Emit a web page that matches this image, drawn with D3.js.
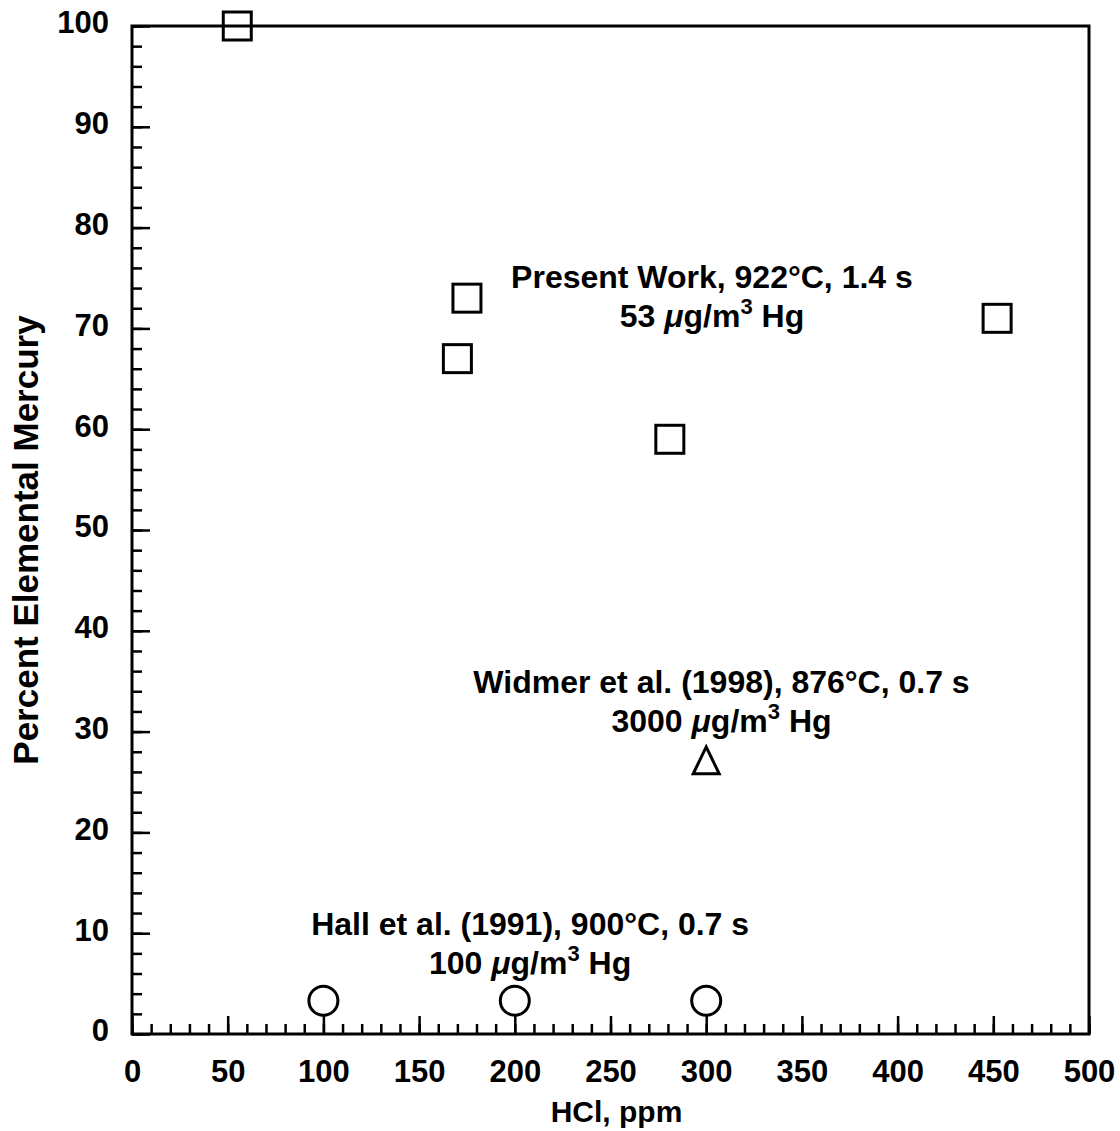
<!DOCTYPE html>
<html>
<head>
<meta charset="utf-8">
<script src="https://cdn.jsdelivr.net/npm/d3@7"></script>
<style>
  body { margin: 0; background: #fff; }
  text { font-family: "Liberation Sans", Arial, Helvetica, sans-serif; font-weight: bold; }
</style>
</head>
<body>
<div id="chart"></div>
<script>
// data
const presentX = [55, 170, 175, 281, 452]
const presentY = [100, 67, 73, 59, 71]
const widmerX = [300]
const widmerY = [27]
const hallX = [100, 200, 300]
const hallY = [3.3, 3.3, 3.3]

const xMajor = [0, 50, 100, 150, 200, 250, 300, 350, 400, 450, 500]
const yMajor = [0, 10, 20, 30, 40, 50, 60, 70, 80, 90, 100]

// annotation labels: [x, y, line1, value]
const notes = [
  [303, 74.0, "Present Work, 922°C, 1.4 s", "53"],
  [308, 33.8, "Widmer et al. (1998), 876°C, 0.7 s", "3000"],
  [208, 9.8, "Hall et al. (1991), 900°C, 0.7 s", "100"]
]

let margin = {top: 26, right: 31, bottom: 97, left: 132},
    width = 1120 - margin.left - margin.right,
    height = 1131 - margin.top - margin.bottom;

const svg = d3.select("#chart")
    .append("svg")
    .attr("width", width + margin.left + margin.right)
    .attr("height", height + margin.top + margin.bottom)
    .append("g")
    .attr("transform", "translate(" + margin.left + "," + margin.top + ")");

const x = d3.scaleLinear().domain([0, 500]).range([0, width])
const y = d3.scaleLinear().domain([0, 100]).range([height, 0])

// minor ticks
svg.append("g")
    .attr("transform", "translate(0," + height + ")")
    .call(d3.axisBottom(x).tickValues(d3.range(0, 501, 10)).tickSize(-10).tickFormat(""))
    .call(g => g.select(".domain").remove())
    .selectAll("line").attr("stroke-width", 2.5)
svg.append("g")
    .call(d3.axisLeft(y).tickValues(d3.range(0, 101, 2)).tickSize(-10).tickFormat(""))
    .call(g => g.select(".domain").remove())
    .selectAll("line").attr("stroke-width", 2.5)

// major ticks + labels
const xAxis = svg.append("g")
    .attr("transform", "translate(0," + height + ")")
    .call(d3.axisBottom(x).tickValues(xMajor).tickSize(-18).tickPadding(26))
xAxis.select(".domain").remove()
xAxis.selectAll("line").attr("stroke-width", 2.5)
xAxis.selectAll("text").style("font-size", "31px").attr("fill", "#000")

const yAxis = svg.append("g")
    .call(d3.axisLeft(y).tickValues(yMajor).tickSize(-18).tickPadding(23))
yAxis.select(".domain").remove()
yAxis.selectAll("line").attr("stroke-width", 2.5)
yAxis.selectAll("text").style("font-size", "31px").attr("fill", "#000").attr("dy", "0.22em")

// frame
svg.append("rect")
    .attr("width", width).attr("height", height)
    .attr("fill", "none").attr("stroke", "#000").attr("stroke-width", 3)

// axis titles
svg.append("text")
    .attr("x", width / 2 + 6).attr("y", height + 88)
    .attr("text-anchor", "middle").style("font-size", "30px")
    .text("HCl, ppm")
svg.append("text")
    .attr("transform", "translate(" + (-94) + "," + (height / 2 + 10) + ") rotate(-90)")
    .attr("text-anchor", "middle").style("font-size", "35px")
    .text("Percent Elemental Mercury")

// markers
const half = 14
svg.selectAll("rect.present")
    .data(presentX.map((d, i) => [d, presentY[i]]))
    .enter().append("rect")
    .attr("class", "present")
    .attr("x", d => x(d[0]) - half).attr("y", d => y(d[1]) - half)
    .attr("width", half * 2).attr("height", half * 2)
    .attr("fill", "none").attr("stroke", "#000").attr("stroke-width", 3)

svg.selectAll("path.widmer")
    .data(widmerX.map((d, i) => [d, widmerY[i]]))
    .enter().append("path")
    .attr("class", "widmer")
    .attr("transform", d => "translate(" + x(d[0]) + "," + y(d[1]) + ")")
    .attr("d", "M0,-15 L13,12 L-13,12 Z")
    .attr("fill", "none").attr("stroke", "#000").attr("stroke-width", 3)

svg.selectAll("circle.hall")
    .data(hallX.map((d, i) => [d, hallY[i]]))
    .enter().append("circle")
    .attr("class", "hall")
    .attr("cx", d => x(d[0])).attr("cy", d => y(d[1]))
    .attr("r", 14.5)
    .attr("fill", "#fff").attr("stroke", "#000").attr("stroke-width", 3)

// annotations
notes.forEach(n => {
  const g = svg.append("g")
      .attr("transform", "translate(" + x(n[0]) + "," + y(n[1]) + ")")
  g.append("text").attr("text-anchor", "middle").style("font-size", "32px").text(n[2])
  const t = g.append("text").attr("text-anchor", "middle").attr("y", 39).style("font-size", "32px")
  t.append("tspan").text(n[3] + " ")
  t.append("tspan").style("font-style", "italic").text("μ")
  t.append("tspan").text("g/m")
  t.append("tspan").attr("dy", -13).style("font-size", "22px").text("3")
  t.append("tspan").attr("dy", 13).text(" Hg")
})
</script>
</body>
</html>
